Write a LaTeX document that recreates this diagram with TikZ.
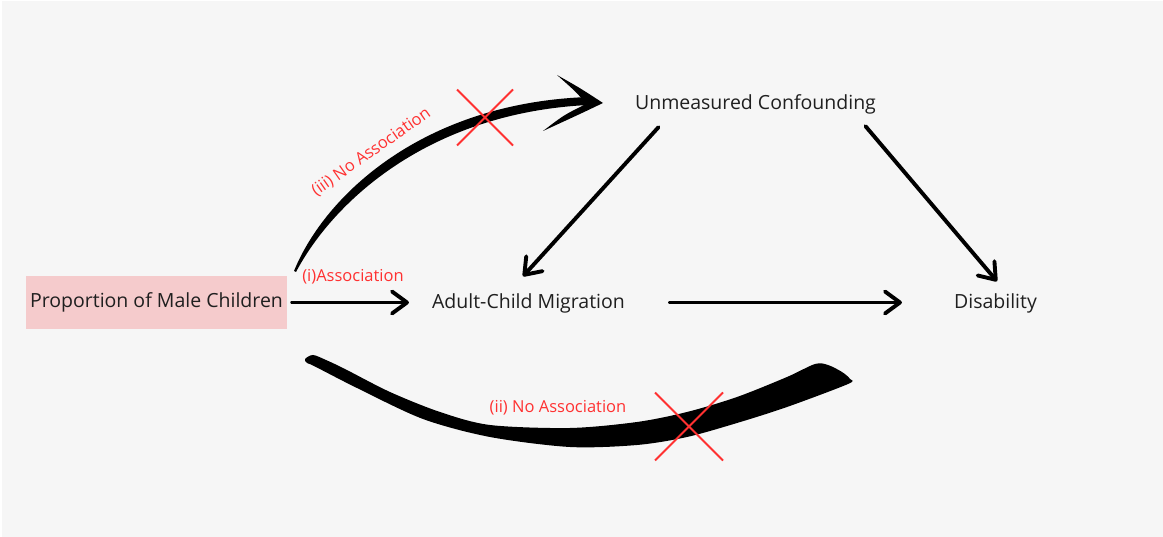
\documentclass[tikz,border=0pt]{standalone}
\usepackage{fontspec}
\setmainfont{Open Sans}
\usetikzlibrary{arrows.meta,calc}
\definecolor{bggray}{HTML}{F6F6F6}
\definecolor{boxpink}{HTML}{F5CBCC}
\definecolor{assocred}{HTML}{FF3131}

\begin{document}
\begin{tikzpicture}[x=1pt,y=-1pt,
    lbl/.style={inner sep=0pt, font=\fontsize{19.5}{23}\selectfont, text=black!88, anchor=base},
    redlbl/.style={inner sep=0pt, font=\fontsize{16.5}{20}\selectfont, text=assocred, anchor=base},
    arr/.style={line width=3.9pt, line cap=round, -{Straight Barb[length=15pt,width=22pt,line cap=round,line join=round]}},
    redx/.style={assocred, line width=1.8pt}]
            % Page and grey background
            \fill[white] (0,0) rectangle (1163,537);
            \fill[bggray] (1.5,1.5) rectangle (1163,537);

            % Variables
            \node[lbl, anchor=center, fill=boxpink, minimum width=261pt, minimum height=53pt] (prop) at (156.5,302.5) {Proportion of Male Children};
            \node[lbl] (adult) at (528.5,308.3) {Adult-Child Migration};
            \node[lbl] (dis) at (995.5,308.3) {Disability};
            \node[lbl] (conf) at (755.5,109.3) {Unmeasured Confounding};

            % Straight arrows
            \draw[arr, shorten <=5pt, shorten >=23pt] (prop.east) -- (prop.east -| adult.west);
            \draw[arr, shorten <=45pt, shorten >=52pt] (adult.east |- prop.east) -- (prop.east -| dis.west);
            \draw[arr] ([shift={(-97,13)}]conf.south) -- ([shift={(-5.5,-17)}]adult.north);
            \draw[arr] ([shift={(110,12)}]conf.south) -- ([shift={(1.5,-12)}]dis.north);

            % (iii) tapered brush arrow up to the confounder
            \fill (294,271) .. controls (325,195) and (423,103) .. (588,97)
                -- (588,105) .. controls (428,113) and (333,202) .. (296,272) -- cycle;
            \fill (557,75) .. controls (580,88) .. (603,103) .. controls (580,114) .. (543,131)
                .. controls (564,115) .. (584,105) -- (584,101) .. controls (575,91) .. (557,75) -- cycle;

            % (ii) brush stroke under the chain
            \fill plot[smooth cycle, tension=0.5] coordinates {(305,359) (313,355) (326,360) (345,369) (390,392)
                (440,412) (490,425) (570,428) (637,422) (687,412) (737,397) (787,377) (815,364) (828,365)
                (842,372) (850,379) (848,384) (787,407) (737,423) (687,437) (637,445) (570,447) (490,437)
                (423,419) (357,388) (314,366) (307,363)};

            % Labels
            \node[redlbl] (assoc) at (353,281.7) {(i)Association};
            \node[redlbl] (noassoc2) at (558,412.7) {(ii) No Association};
            \node[redlbl, rotate=35] (noassoc3) at (374,156) {(iii) No Association};

            % Red crosses
            \foreach \cx/\cy/\r in {485/117.5/28, 689/426.5/34} {
                \draw[redx] (\cx-\r,\cy-\r) -- (\cx+\r,\cy+\r);
                \draw[redx] (\cx+\r,\cy-\r) -- (\cx-\r,\cy+\r);
            }
\end{tikzpicture}
\end{document}
